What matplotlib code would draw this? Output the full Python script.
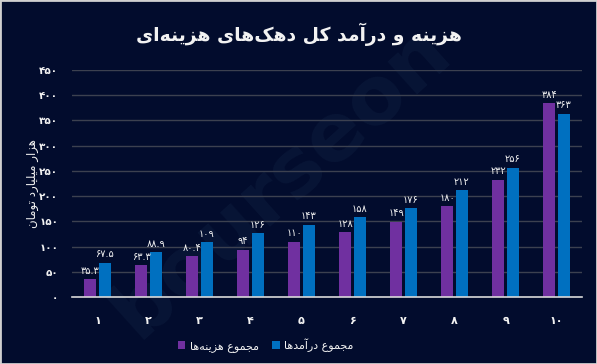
import matplotlib
matplotlib.use("Agg")
import matplotlib.pyplot as plt
import numpy as np
from matplotlib.patches import Rectangle

### Data
deciles = ["1", "2", "3", "4", "5", "6", "7", "8", "9", "10"]
costs = [35.3, 63.3, 80.4, 94, 110, 128, 149, 180, 232, 384]
incomes = [67.5, 88.9, 109, 126, 143, 158, 176, 212, 256, 363]
y_ticks = [0, 50, 100, 150, 200, 250, 300, 350, 400, 450]

TITLE = "هزینه و درآمد کل دهک‌های هزینه‌ای"
Y_LABEL = "هزار میلیارد تومان"
COST_LABEL = "مجموع هزینه‌ها"
INCOME_LABEL = "مجموع درآمدها"

BG = "#020c2d"
PURPLE = "#7030a0"
BLUE = "#0070c0"
TEXT = "#f2f2f2"

#### Arabic shaping (matplotlib has no complex text layout)
# letter: (isolated, final, initial, medial); two forms -> joins only to the right
FORMS = {
    "ا": (0xFE8D, 0xFE8E), "آ": (0xFE81, 0xFE82),
    "د": (0xFEA9, 0xFEAA), "ر": (0xFEAD, 0xFEAE),
    "ز": (0xFEAF, 0xFEB0), "و": (0xFEED, 0xFEEE),
    "ب": (0xFE8F, 0xFE90, 0xFE91, 0xFE92),
    "ت": (0xFE95, 0xFE96, 0xFE97, 0xFE98),
    "ج": (0xFE9D, 0xFE9E, 0xFE9F, 0xFEA0),
    "س": (0xFEB1, 0xFEB2, 0xFEB3, 0xFEB4),
    "ع": (0xFEC9, 0xFECA, 0xFECB, 0xFECC),
    "ک": (0xFB8E, 0xFB8F, 0xFB90, 0xFB91),
    "ل": (0xFEDD, 0xFEDE, 0xFEDF, 0xFEE0),
    "م": (0xFEE1, 0xFEE2, 0xFEE3, 0xFEE4),
    "ن": (0xFEE5, 0xFEE6, 0xFEE7, 0xFEE8),
    "ه": (0xFEE9, 0xFEEA, 0xFEEB, 0xFEEC),
    "ی": (0xFBFC, 0xFBFD, 0xFBFE, 0xFBFF),
}


def fa(text):
    out = []
    n = len(text)
    for i, ch in enumerate(text):
        if ch not in FORMS:
            if ch != "\u200c":
                out.append(ch)
            continue
        f = FORMS[ch]
        prev = text[i - 1] if i > 0 else ""
        nxt = text[i + 1] if i < n - 1 else ""
        join_prev = prev in FORMS and len(FORMS[prev]) == 4
        join_next = len(f) == 4 and nxt in FORMS
        if join_prev and join_next:
            code = f[3]
        elif join_prev:
            code = f[1]
        elif join_next:
            code = f[2]
        else:
            code = f[0]
        out.append(chr(code))
    return "".join(out)[::-1]


DIGITS = str.maketrans("0123456789", "۰۱۲۳۴۵۶۷۸۹")


def fa_num(v):
    s = ("%g" % v)
    return s.translate(DIGITS)


plt.rcParams["font.family"] = ["DejaVu Sans"]

fig = plt.figure(figsize=(5.97, 3.64), dpi=100)
fig.patch.set_facecolor(BG)
ax = fig.add_axes([0.1206, 0.184, 0.8544, 0.6237])
ax.set_facecolor(BG)

# faint watermark behind the bars
ax.text(0.47, 0.5, "bourseon", rotation=42, fontsize=58, fontweight="bold",
        color="#081536", ha="center", va="center", zorder=0.2,
        transform=fig.transFigure, clip_on=False)

x = np.arange(len(deciles))
w = 0.23
off = 0.145
b1 = ax.bar(x - off, costs, w, color=PURPLE, label=fa(COST_LABEL), zorder=3)
b2 = ax.bar(x + off, incomes, w, color=BLUE, label=fa(INCOME_LABEL), zorder=3)

for bars, vals in ((b1, costs), (b2, incomes)):
    for r, v in zip(bars, vals):
        ax.text(r.get_x() + r.get_width() / 2, v + 7, fa_num(v), ha="center",
                va="bottom", fontsize=7, color=TEXT, zorder=4)

ax.set_xlim(-0.5, len(deciles) - 0.5)
ax.set_ylim(0, 450)
ax.set_yticks(y_ticks)
ax.set_yticklabels([fa_num(t) for t in y_ticks], fontsize=7.5, color=TEXT,
                   fontweight="bold")
ax.set_xticks(x)
ax.set_xticklabels([d.translate(DIGITS) for d in deciles], fontsize=8, color=TEXT,
                   fontweight="bold")
ax.tick_params(axis="y", length=0, pad=10)
ax.tick_params(axis="x", length=0, pad=14)
ax.yaxis.grid(True, color="#3c4150", lw=1, zorder=0.5)
ax.set_axisbelow(True)
for s in ("top", "right", "left"):
    ax.spines[s].set_visible(False)
ax.spines["bottom"].set_color("#d9d9d9")
ax.spines["bottom"].set_linewidth(1.2)
ax.spines["bottom"].set_zorder(5)

fig.text(0.054, 0.495, fa(Y_LABEL), rotation=90, ha="center", va="center",
         fontsize=8.5, color=TEXT)
fig.text(0.5, 0.905, fa(TITLE), ha="center", va="center", fontsize=13.5,
         fontweight="bold", color=TEXT)

leg = fig.legend(loc="center", bbox_to_anchor=(0.445, 0.052), ncol=2, frameon=False,
                 fontsize=8, handlelength=0.7, handleheight=0.7, handletextpad=0.4,
                 columnspacing=1.2)
for t in leg.get_texts():
    t.set_color(TEXT)

# thin light frame around image
fig.patches.append(Rectangle((0, 0), 1, 1, transform=fig.transFigure, fill=False,
                             edgecolor="#d0d0d0", lw=2, zorder=10))

plt.savefig("out.png", dpi=100, facecolor=BG)
